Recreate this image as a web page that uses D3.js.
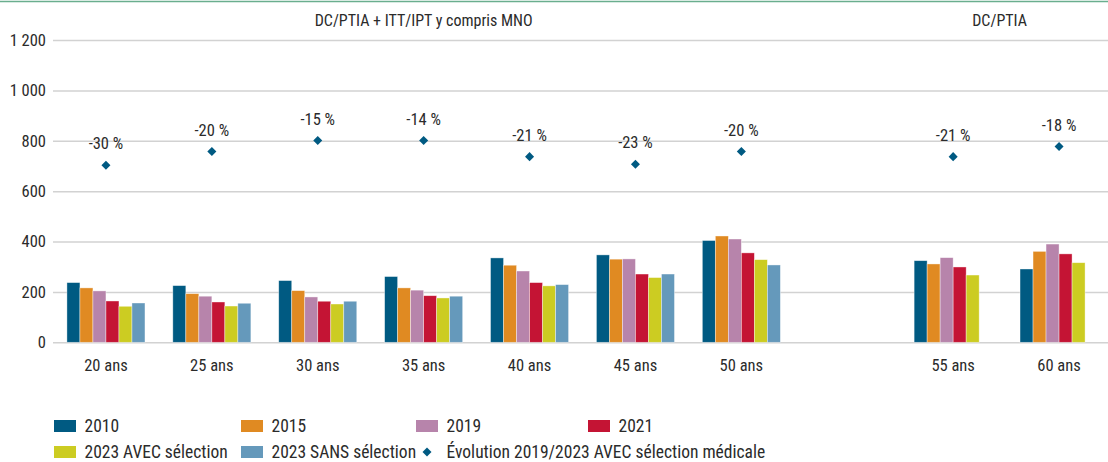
<!DOCTYPE html>
<html>
<head>
<meta charset="utf-8">
<script src="https://cdn.jsdelivr.net/npm/d3@7"></script>
<style>
    body { margin: 0; background: #fff; }
    svg text { font-family: 'Liberation Sans Narrow', 'Arial Narrow', 'Roboto Condensed', sans-serif; fill: #2b2b2b; }
</style>
</head>
<body>
<script>

// categories (the empty slot separates the two groups)
let categories = ['20 ans', '25 ans', '30 ans', '35 ans', '40 ans', '45 ans', '50 ans', '', '55 ans', '60 ans'];
let series = ['2010', '2015', '2019', '2021', '2023 AVEC sélection', '2023 SANS sélection'];
let colors = ['#005a82', '#e08a22', '#b784ab', '#c41434', '#cccc22', '#6599bb'];

// values per series, null = no bar
let v2010 = [237, 225, 245, 261, 335, 347, 404, null, 324, 291];
let v2015 = [216, 193, 205, 216, 306, 330, 422, null, 311, 361];
let v2019 = [204, 183, 180, 207, 283, 331, 410, null, 336, 390];
let v2021 = [164, 160, 163, 185, 237, 271, 355, null, 299, 351];
let v2023avec = [143, 144, 152, 176, 224, 257, 328, null, 267, 316];
let v2023sans = [156, 155, 163, 183, 229, 271, 307, null, null, null];

// evolution markers: plotted position (left axis units) and label
let evolutionPos = [703, 757, 801, 801, 737, 707, 757, null, 737, 777];
let evolutionLabels = ['-30 %', '-20 %', '-15 %', '-14 %', '-21 %', '-23 %', '-20 %', null, '-21 %', '-18 %'];

let yTicks = [0, 200, 400, 600, 800, 1000, 1200];
let groupTitles = ['DC/PTIA + ITT/IPT y compris MNO', 'DC/PTIA'];
let evolutionName = 'Évolution 2019/2023 AVEC sélection médicale';

let seriesValues = [v2010, v2015, v2019, v2021, v2023avec, v2023sans];

let width = 1108, height = 462;
let svg = d3.select('body').append('svg').attr('width', width).attr('height', height);

// top rule
svg.append('line')
    .attr('x1', 0).attr('x2', width)
    .attr('y1', 1.5).attr('y2', 1.5)
    .attr('stroke', '#6aae8e')
    .attr('stroke-width', 1.5);

let x0 = d3.scaleBand()
    .domain(categories.map(function(d, i){ return i; }))
    .range([53, 1112])
    .paddingInner(0.263)
    .paddingOuter(0.1315);

let x1 = d3.scaleBand()
    .domain(series)
    .range([0, x0.bandwidth()]);

let y = d3.scaleLinear()
    .domain([0, 1200])
    .range([342.3, 40]);

// gridlines + y labels
let yAxis = d3.axisLeft(y)
    .tickValues(yTicks)
    .tickSize(-(width - 53))
    .tickPadding(7)
    .tickFormat(function(d){ return d3.format(',')(d).replace(',', ' '); });

let gy = svg.append('g')
    .attr('transform', 'translate(53,0)')
    .call(yAxis);
gy.select('.domain').remove();
gy.selectAll('.tick line')
    .attr('stroke', '#d2d2d2')
    .attr('stroke-width', 1.5);
gy.selectAll('.tick text')
    .attr('font-size', 16.5)
    .attr('font-family', null)
    .attr('fill', '#2b2b2b');

// bars
let rows = [];
categories.forEach(function(c, i) {
    series.forEach(function(s, j) {
        if (seriesValues[j][i] !== null) {
            rows.push({cat: i, serie: s, color: colors[j], value: seriesValues[j][i]});
        }
    });
});

svg.append('g').selectAll('rect')
    .data(rows)
    .enter().append('rect')
    .attr('x', function(d){ return x0(d.cat) + x1(d.serie); })
    .attr('y', function(d){ return y(d.value); })
    .attr('width', x1.bandwidth())
    .attr('height', function(d){ return y(0) - y(d.value); })
    .style('fill', function(d){ return d.color; })
    .style('stroke', '#fff')
    .style('stroke-opacity', 0.55)
    .style('stroke-width', 0.7);

// evolution diamonds + labels
let evo = evolutionPos.map(function(p, i){ return {cat: i, pos: p, label: evolutionLabels[i]}; })
    .filter(function(d){ return d.pos !== null; });

let diamond = d3.symbol().type(d3.symbolDiamond2).size(52);

svg.append('g').selectAll('path')
    .data(evo)
    .enter().append('path')
    .attr('d', diamond)
    .attr('transform', function(d){ return 'translate(' + (x0(d.cat) + x0.bandwidth() / 2) + ',' + y(d.pos) + ')'; })
    .style('fill', '#005a82');

svg.append('g').selectAll('text')
    .data(evo)
    .enter().append('text')
    .attr('x', function(d){ return x0(d.cat) + x0.bandwidth() / 2; })
    .attr('y', function(d){ return y(d.pos) - 16; })
    .attr('text-anchor', 'middle')
    .attr('font-size', 16.5)
    .text(function(d){ return d.label; });

// category labels
svg.append('g').selectAll('text')
    .data(categories.map(function(c, i){ return {cat: i, name: c}; }).filter(function(d){ return d.name !== ''; }))
    .enter().append('text')
    .attr('x', function(d){ return x0(d.cat) + x0.bandwidth() / 2; })
    .attr('y', 371)
    .attr('text-anchor', 'middle')
    .attr('font-size', 16.5)
    .text(function(d){ return d.name; });

// group titles, centred over their groups
svg.append('text')
    .attr('x', (x0(0) + x0(6) + x0.bandwidth()) / 2)
    .attr('y', 26)
    .attr('text-anchor', 'middle')
    .attr('font-size', 16)
    .text(groupTitles[0]);
svg.append('text')
    .attr('x', (x0(8) + x0(9) + 5 * x1.bandwidth()) / 2)
    .attr('y', 26)
    .attr('text-anchor', 'middle')
    .attr('font-size', 16)
    .text(groupTitles[1]);

// legend: 4 column grid, 2 rows
let legendCols = [54, 241, 416, 588];
let legendRows = [426, 452];
let legendItems = series.map(function(s, i){ return {name: s, color: colors[i], type: 'rect'}; });
legendItems.push({name: evolutionName, color: '#005a82', type: 'diamond'});

let legend = svg.append('g');
legendItems.forEach(function(d, i) {
    let lx = legendCols[i % 4];
    let ly = legendRows[Math.floor(i / 4)];
    if (d.type === 'rect') {
        legend.append('rect')
            .attr('x', lx).attr('y', ly - 6)
            .attr('width', 22).attr('height', 12)
            .style('fill', d.color);
    } else {
        legend.append('path')
            .attr('d', diamond)
            .attr('transform', 'translate(' + (lx + 11) + ',' + ly + ')')
            .style('fill', d.color);
    }
    legend.append('text')
        .attr('x', lx + 30.5).attr('y', ly + 6)
        .attr('font-size', 17.5)
        .text(d.name);
});

</script>
</body>
</html>
